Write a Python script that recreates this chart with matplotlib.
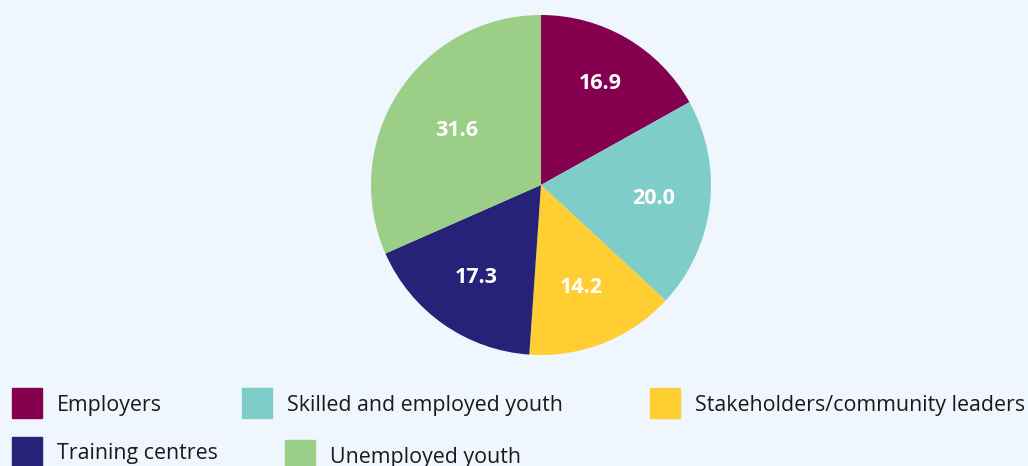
import numpy as np
import matplotlib.pyplot as plt
from matplotlib.patches import Rectangle

plt.rcParams['font.family'] = ['Open Sans', 'DejaVu Sans']

categories = ['Employers', 'Skilled and employed youth', 'Stakeholders/community leaders',
              'Training centres', 'Unemployed youth']
values = [16.9, 20.0, 14.2, 17.3, 31.6]
colors = ['#85004f', '#7ecdc9', '#ffce33', '#252277', '#9bcf88']

W, H = 1028, 466
bg = '#f0f6fd'

fig = plt.figure(figsize=(W / 100, H / 100), dpi=100)
fig.patch.set_facecolor(bg)

# pie: centre (541, 185) px, radius 170 px
cx, cy, r = 541, 185, 170
ax = fig.add_axes([(cx - r) / W, (H - cy - r) / H, 2 * r / W, 2 * r / H])
ax.set_facecolor(bg)
wedges, texts, autotexts = ax.pie(values, colors=colors, startangle=90, counterclock=False,
                                  autopct='%.1f', pctdistance=0.67,
                                  wedgeprops=dict(linewidth=0),
                                  textprops=dict(color='white', fontsize=15.5, fontweight='bold'))
# nudge label radii a little, as in the original
label_dist = [0.69, 0.665, 0.65, 0.665, 0.59]
for w, t, d in zip(wedges, autotexts, label_dist):
    ang = np.deg2rad((w.theta1 + w.theta2) / 2)
    t.set_position((d * np.cos(ang), d * np.sin(ang)))
ax.set_xlim(-1, 1)
ax.set_ylim(-1, 1)
ax.axis('off')

# legend items laid out like the original (pixel positions of the squares)
legend_pos = [(12, 388), (242, 388), (650, 388), (12, 437), (285, 440)]
for (x, y), lab, col in zip(legend_pos, categories, colors):
    fig.patches.append(Rectangle((x / W, 1 - (y + 30) / H), 30 / W, 30 / H,
                                 transform=fig.transFigure, color=col))
    fig.text((x + 45) / W, 1 - (y + 17) / H, lab, fontsize=15.4, color='#1a1a1a',
             va='center', ha='left')

fig.savefig('out.png', dpi=100, facecolor=bg)
